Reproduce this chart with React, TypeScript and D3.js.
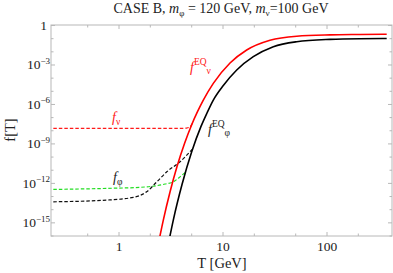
import React from "react";
import * as d3 from "d3";

// ---- data (T in GeV, f as log10 exponent) ----
const tEqNu = [2.319, 2.667, 3.093, 3.612, 4.265, 5.0, 5.685, 6.465, 8.067, 11.68, 16.9, 28.31, 51.13, 106.9, 207.7, 375];
const fEqNu = [-17.11, -14.79, -12.66, -10.72, -8.97, -7.54, -6.55, -5.67, -4.4, -2.85, -1.86, -1.12, -0.81, -0.71, -0.68, -0.66];

const tEqPhi = [2.96, 3.327, 4.035, 5.0, 6.144, 7.018, 8.067, 10.07, 13.55, 19.56, 30.46, 51.13, 106.9, 207.7, 375];
const fEqPhi = [-16.73, -14.79, -12.09, -9.6, -7.67, -6.65, -5.67, -4.56, -3.38, -2.37, -1.61, -1.23, -1.05, -1.0, -0.99];

const tNu = [0.2335, 0.6566, 1.987, 4.125, 4.408, 4.711, 4.925, 5.112];
const fNu = [-7.82, -7.82, -7.82, -7.82, -7.8, -7.74, -7.61, -7.37];

const tPhiGreen = [0.2335, 0.762, 1.59, 2.77, 3.33, 3.94, 4.378];
const fPhiGreen = [-12.46, -12.38, -12.3, -12.05, -11.88, -11.44, -11.14];

const tPhiBlack = [0.2335, 0.762, 1.373, 1.844, 2.31, 2.88, 3.86, 5.088];
const fPhiBlack = [-13.4, -13.27, -13.06, -12.64, -11.88, -11.12, -10.36, -9.39];

const xTicks = [1, 10, 100];
const xTickLabels = ["1", "10", "100"];
const xMinorTicks = [0.5, 2, 5, 20, 50, 200];
const yTickExps = [0, -3, -6, -9, -12, -15];
const yMinorExps = [-1, -2, -4, -5, -7, -8, -10, -11, -13, -14, -16];

const L = 51, R = 392, T = 25, B = 236;

const x = d3.scaleLog().domain([Math.pow(10, -0.654), Math.pow(10, 2.625)]).range([L, R]);
const y = d3.scaleLinear().domain([-16, 0.04]).range([B, T]);

const line = d3
  .line<[number, number]>()
  .x((d) => x(d[0]))
  .y((d) => y(d[1]))
  .curve(d3.curveMonotoneX);

const zip = (a: number[], b: number[]) => a.map((v, i) => [v, b[i]] as [number, number]);

const serif = "'Liberation Serif', 'Times New Roman', Times, 'DejaVu Serif', serif";

export default function App() {
  const frame = "#b8b8b8";
  const txt = "#222";
  return (
    <svg width={393} height={273} style={{ position: "absolute", left: 0, top: 0, fontFamily: serif }}>
      <defs>
        <clipPath id="plotclip">
          <rect x={L} y={T} width={R - L} height={B - T} />
        </clipPath>
      </defs>
      <rect x={0} y={0} width={393} height={273} fill="#fff" />
      {/* Title */}
      <text x={221} y={13} fontSize={14} textAnchor="middle" fill={txt}>
        CASE B, <tspan fontStyle="italic">m</tspan>
        <tspan fontSize={9} dy={3}>φ</tspan>
        <tspan dy={-3}> = 120 GeV, </tspan>
        <tspan fontStyle="italic">m</tspan>
        <tspan fontSize={9} dy={3}>ν</tspan>
        <tspan dy={-3}>=100 GeV</tspan>
      </text>

      {/* frame */}
      <rect x={L} y={T} width={R - L} height={B - T} fill="none" stroke={frame} strokeWidth={1} />

      {/* x ticks */}
      {xTicks.map((t, i) => (
        <g key={"xt" + i}>
          <line x1={x(t)} x2={x(t)} y1={B} y2={B - 4} stroke={frame} />
          <line x1={x(t)} x2={x(t)} y1={T} y2={T + 4} stroke={frame} />
          <text x={x(t)} y={251} fontSize={13.5} textAnchor="middle" fill={txt}>
            {xTickLabels[i]}
          </text>
        </g>
      ))}
      {xMinorTicks.map((t, i) => (
        <g key={"xm" + i}>
          <line x1={x(t)} x2={x(t)} y1={B} y2={B - 2.5} stroke={frame} />
          <line x1={x(t)} x2={x(t)} y1={T} y2={T + 2.5} stroke={frame} />
        </g>
      ))}

      {/* y ticks */}
      {yTickExps.map((e, i) => (
        <g key={"yt" + i}>
          <line x1={L} x2={L + 4} y1={y(e)} y2={y(e)} stroke={frame} />
          <line x1={R} x2={R - 4} y1={y(e)} y2={y(e)} stroke={frame} />
          {e === 0 ? (
            <text x={47} y={y(e) + 4.5} fontSize={13.5} textAnchor="end" fill={txt}>
              1
            </text>
          ) : (
            <text x={50} y={y(e) + 4.5} fontSize={13.5} textAnchor="end" fill={txt}>
              10
              <tspan fontSize={9} dy={-5.5}>
                {"\u2212" + Math.abs(e)}
              </tspan>
            </text>
          )}
        </g>
      ))}
      {yMinorExps.map((e, i) => (
        <g key={"ym" + i}>
          <line x1={L} x2={L + 2.5} y1={y(e)} y2={y(e)} stroke={frame} />
          <line x1={R} x2={R - 2.5} y1={y(e)} y2={y(e)} stroke={frame} />
        </g>
      ))}

      {/* axis labels */}
      <text x={222} y={268} fontSize={14.5} textAnchor="middle" fill={txt}>
        T [GeV]
      </text>
      <text transform="translate(15,130) rotate(-90)" fontSize={14.5} textAnchor="middle" fill={txt}>
        f[T]
      </text>

      {/* curves */}
      <g clipPath="url(#plotclip)" fill="none">
        <path d={line(zip(tNu, fNu)) || ""} stroke="#ff1a1a" strokeWidth={1.2} strokeDasharray="3.5,2" />
        <path d={line(zip(tPhiGreen, fPhiGreen)) || ""} stroke="#22dd22" strokeWidth={1.2} strokeDasharray="3.5,2" />
        <path d={line(zip(tPhiBlack, fPhiBlack)) || ""} stroke="#111" strokeWidth={1.2} strokeDasharray="3.5,2" />
        <path d={line(zip(tEqNu, fEqNu)) || ""} stroke="#ff0000" strokeWidth={1.6} />
        <path d={line(zip(tEqPhi, fEqPhi)) || ""} stroke="#000" strokeWidth={1.6} />
      </g>

      {/* curve labels */}
      <text x={190} y={72} fontSize={14} fill="#ff2020">
        <tspan fontStyle="italic">f</tspan>
        <tspan fontSize={9.5} dy={-7}>EQ</tspan>
        <tspan fontSize={9.5} dy={9}>ν</tspan>
      </text>
      <text x={112} y={122} fontSize={14} fill="#ff2020">
        <tspan fontStyle="italic">f</tspan>
        <tspan fontSize={9.5} dy={3}>ν</tspan>
      </text>
      <text x={113} y={182} fontSize={14} fill={txt}>
        <tspan fontStyle="italic">f</tspan>
        <tspan fontSize={9.5} dy={3}>φ</tspan>
      </text>
      <text x={208} y={134} fontSize={14} fill={txt}>
        <tspan fontStyle="italic">f</tspan>
        <tspan fontSize={9.5} dy={-7}>EQ</tspan>
        <tspan fontSize={9.5} dy={9}>φ</tspan>
      </text>
    </svg>
  );
}
